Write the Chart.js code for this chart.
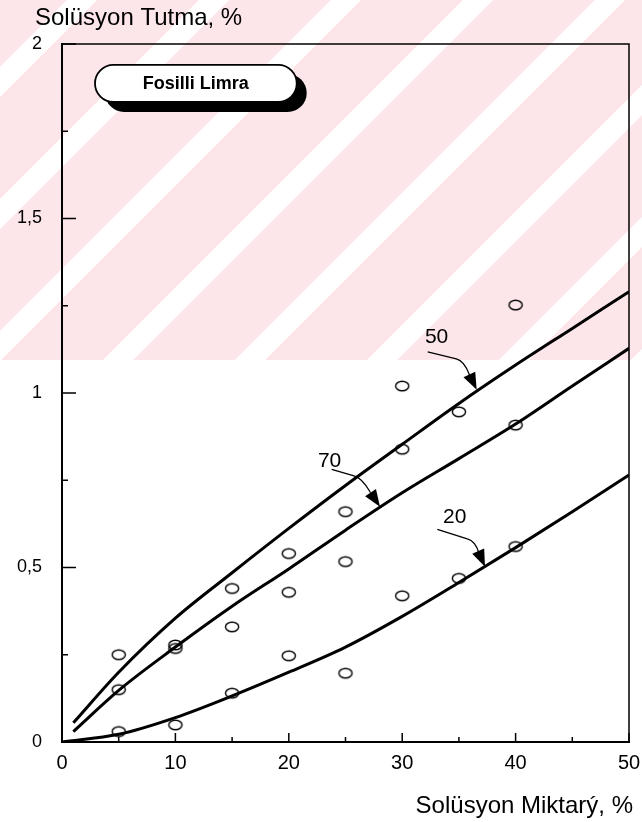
<!DOCTYPE html>
<html>
<head>
<meta charset="utf-8">
<script src="https://cdn.jsdelivr.net/npm/chart.js@4.4.1/dist/chart.umd.min.js"></script>
<style>
  html, body { margin: 0; padding: 0; background: #fff; }
  #wrap { width: 642px; height: 822px; }
</style>
</head>
<body>
<div id="wrap"><canvas id="chart" width="642" height="822"></canvas></div>
<script>
// curve x positions (Solüsyon Miktarý, %)
const curveX = [1, 5, 10, 15, 20, 25, 30, 35, 40, 45, 50];
const curve20X = [0, 5, 10, 15, 20, 25, 30, 35, 40, 45, 50];

// fitted curves (Solüsyon Tutma, %)
const curve50 = [0.055, 0.20, 0.355, 0.485, 0.612, 0.735, 0.853, 0.97, 1.08, 1.185, 1.29];
const curve70 = [0.03, 0.148, 0.272, 0.389, 0.496, 0.607, 0.714, 0.812, 0.911, 1.02, 1.128];
const curve20 = [0, 0.022, 0.07, 0.132, 0.20, 0.272, 0.36, 0.457, 0.557, 0.66, 0.765];

// measured points
const pointX = [5, 5, 5, 10, 10, 10, 15, 15, 15, 20, 20, 20, 25, 25, 25, 30, 30, 30, 35, 35, 40, 40, 40];
const pointY = [0.25, 0.15, 0.03, 0.278, 0.268, 0.049, 0.44, 0.33, 0.14, 0.54, 0.429, 0.247,
                0.66, 0.517, 0.197, 1.02, 0.839, 0.419, 0.946, 0.469, 1.252, 0.908, 0.56];

// axis ticks
const xMajor = [0, 10, 20, 30, 40, 50];
const xMinor = [5, 15, 25, 35, 45];
const yMajor = [0, 0.5, 1, 1.5, 2];
const yMinor = [0.25, 0.75, 1.25, 1.75];

// curve labels: text, label pos, arrow start, bend, tip (data units)
const curveLabels = [
  { text: '50', at: [32.0, 1.143], start: [32.25, 1.118], bend: [35.3, 1.095], tip: [36.57, 1.009] },
  { text: '70', at: [22.57, 0.788], start: [23.78, 0.781], bend: [26.28, 0.760], tip: [28.04, 0.674] },
  { text: '20', at: [33.6, 0.6275], start: [33.1, 0.609], bend: [36.27, 0.579], tip: [37.3, 0.502] }
];

const FONT = '"Liberation Sans", Arial, Helvetica, sans-serif';

const toXY = (xs, ys) => xs.map((x, i) => ({ x: x, y: ys[i] }));

// small open ellipse used as marker
const ring = document.createElement('canvas');
ring.width = 18; ring.height = 14;
(function () {
  const c = ring.getContext('2d');
  c.strokeStyle = '#000';
  c.lineWidth = 1.4;
  c.beginPath();
  c.ellipse(9, 7, 6.6, 4.8, 0, 0, Math.PI * 2);
  c.stroke();
})();

// pink watermark stripes behind the chart
const watermark = {
  id: 'watermark',
  beforeDraw(chart) {
    const ctx = chart.ctx;
    ctx.save();
    ctx.fillStyle = '#fff';
    ctx.fillRect(0, 0, chart.width, chart.height);
    ctx.beginPath();
    ctx.rect(0, 0, chart.width, 360);
    ctx.clip();
    ctx.fillStyle = '#fde6ea';
    ctx.fillRect(0, 0, chart.width, 360);
    ctx.fillStyle = '#fff';
    for (let k = -2; k < 10; k++) {
      const s = k * 132 + 67;
      ctx.beginPath();
      ctx.moveTo(s, 0);
      ctx.lineTo(s + 30, 0);
      ctx.lineTo(s + 30 - 400, 400);
      ctx.lineTo(s - 400, 400);
      ctx.closePath();
      ctx.fill();
    }
    ctx.restore();
  }
};

const decorations = {
  id: 'decorations',
  afterDraw(chart) {
    const ctx = chart.ctx;
    const xs = chart.scales.x, ys = chart.scales.y;
    const a = chart.chartArea;
    const px = v => xs.getPixelForValue(v);
    const py = v => ys.getPixelForValue(v);

    ctx.save();
    ctx.strokeStyle = '#000';
    ctx.fillStyle = '#000';

    // top and right frame
    ctx.lineWidth = 1.5;
    ctx.beginPath();
    ctx.moveTo(a.left, a.top);
    ctx.lineTo(a.right, a.top);
    ctx.lineTo(a.right, a.bottom);
    ctx.stroke();

    // inward ticks
    ctx.lineWidth = 1.5;
    ctx.beginPath();
    yMajor.forEach(v => { ctx.moveTo(a.left, py(v)); ctx.lineTo(a.left + 14, py(v)); });
    yMinor.forEach(v => { ctx.moveTo(a.left, py(v)); ctx.lineTo(a.left + 6, py(v)); });
    xMajor.forEach(v => { ctx.moveTo(px(v), a.bottom); ctx.lineTo(px(v), a.bottom - 9); });
    xMinor.forEach(v => { ctx.moveTo(px(v), a.bottom); ctx.lineTo(px(v), a.bottom - 5); });
    ctx.stroke();

    // axis titles
    ctx.font = '24px ' + FONT;
    ctx.textBaseline = 'alphabetic';
    ctx.textAlign = 'left';
    ctx.fillText('Solüsyon Tutma, %', 35, 25);
    ctx.textAlign = 'right';
    ctx.fillText('Solüsyon Miktarý, %', 633, 813);

    // curve labels with arrows
    ctx.textAlign = 'left';
    ctx.font = '21px ' + FONT;
    curveLabels.forEach(l => {
      ctx.fillText(l.text, px(l.at[0]), py(l.at[1]));
      const sx = px(l.start[0]), sy = py(l.start[1]);
      const bx = px(l.bend[0]), by = py(l.bend[1]);
      const tx = px(l.tip[0]), ty = py(l.tip[1]);
      ctx.lineWidth = 1.3;
      ctx.beginPath();
      ctx.moveTo(sx, sy);
      ctx.lineTo(bx - 6, by - 1);
      ctx.quadraticCurveTo(bx + 2, by + 1, (bx + tx) / 2, (by + ty) / 2);
      ctx.stroke();
      // arrow head
      const ang = Math.atan2(ty - by, tx - bx);
      const len = 17, hw = 6.5;
      const hx = tx - len * Math.cos(ang), hy = ty - len * Math.sin(ang);
      ctx.beginPath();
      ctx.moveTo(tx, ty);
      ctx.lineTo(hx + hw * Math.sin(ang), hy - hw * Math.cos(ang));
      ctx.lineTo(hx - hw * Math.sin(ang), hy + hw * Math.cos(ang));
      ctx.closePath();
      ctx.fill();
      ctx.beginPath();
      ctx.moveTo((bx + tx) / 2, (by + ty) / 2);
      ctx.lineTo(hx, hy);
      ctx.stroke();
    });

    // "Fosilli Limra" pill with shadow
    const bl = px(2.91), br = px(20.7), bt = py(1.94), bb = py(1.834);
    const pill = (l, t, rr, b) => {
      const rad = (b - t) / 2;
      ctx.beginPath();
      ctx.moveTo(l + rad, t);
      ctx.lineTo(rr - rad, t);
      ctx.arc(rr - rad, t + rad, rad, -Math.PI / 2, Math.PI / 2);
      ctx.lineTo(l + rad, b);
      ctx.arc(l + rad, t + rad, rad, Math.PI / 2, Math.PI * 1.5);
      ctx.closePath();
    };
    pill(bl + 10, bt + 9, br + 10, bb + 10);
    ctx.fillStyle = '#000';
    ctx.fill();
    pill(bl, bt, br, bb);
    ctx.fillStyle = '#fff';
    ctx.fill();
    ctx.lineWidth = 1.8;
    ctx.stroke();
    ctx.fillStyle = '#000';
    ctx.font = 'bold 18px ' + FONT;
    ctx.textAlign = 'center';
    ctx.textBaseline = 'middle';
    ctx.fillText('Fosilli Limra', (bl + br) / 2, (bt + bb) / 2 + 1);

    ctx.restore();
  }
};

const lineStyle = {
  showLine: true,
  borderColor: '#000',
  borderWidth: 3,
  pointRadius: 0,
  fill: false,
  cubicInterpolationMode: 'monotone'
};

new Chart(document.getElementById('chart'), {
  type: 'scatter',
  data: {
    datasets: [
      Object.assign({ label: '50', data: toXY(curveX, curve50) }, lineStyle),
      Object.assign({ label: '70', data: toXY(curveX, curve70) }, lineStyle),
      Object.assign({ label: '20', data: toXY(curve20X, curve20) }, lineStyle),
      {
        label: 'Deney',
        data: toXY(pointX, pointY),
        pointStyle: ring,
        pointRadius: 7,
        showLine: false
      }
    ]
  },
  options: {
    responsive: false,
    animation: false,
    events: [],
    layout: { padding: { left: 0, top: 44, right: 13, bottom: 0 } },
    plugins: { legend: { display: false }, tooltip: { enabled: false } },
    scales: {
      x: {
        type: 'linear',
        min: 0, max: 50,
        afterFit: s => { s.height = 80; s.paddingRight = 0; s.paddingLeft = 0; },
        grid: { display: false, drawTicks: false },
        border: { display: true, color: '#000', width: 2 },
        ticks: {
          stepSize: 10,
          padding: 9,
          color: '#000',
          font: { family: FONT, size: 20 },
          maxRotation: 0
        }
      },
      y: {
        type: 'linear',
        min: 0, max: 2,
        afterFit: s => { s.width = 62; s.paddingTop = 0; s.paddingBottom = 0; },
        grid: { display: false, drawTicks: false },
        border: { display: true, color: '#000', width: 2 },
        ticks: {
          stepSize: 0.5,
          padding: 20,
          color: '#000',
          font: { family: FONT, size: 18 },
          callback: v => String(v).replace('.', ',')
        }
      }
    }
  },
  plugins: [watermark, decorations]
});
</script>
</body>
</html>
